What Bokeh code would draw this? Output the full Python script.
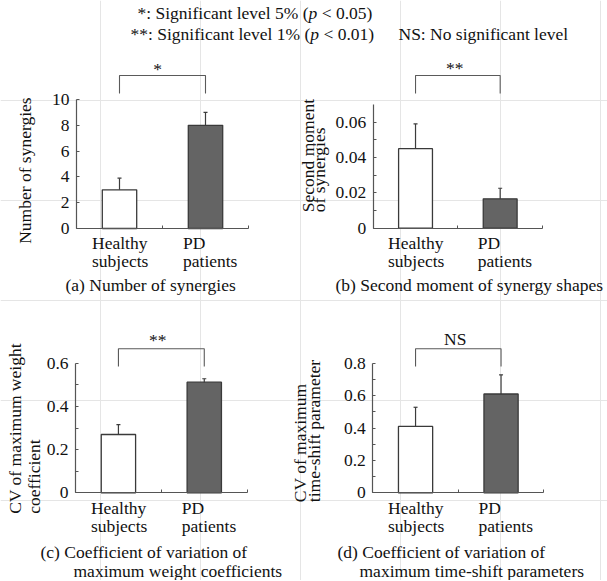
import math
from bokeh.plotting import figure
from bokeh.models import (Range1d, FixedTicker, Label, Whisker, TeeHead, ColumnDataSource,
                          LinearAxis)
from bokeh.embed import file_html
from bokeh.resources import INLINE

# ---------------- data ----------------
groups = ["Healthy subjects", "PD patients"]
group_lines = [["Healthy", "subjects"], ["PD", "patients"]]
bar_colors = ["#ffffff", "#646464"]

n_syn_mean = [3.0, 8.0]
n_syn_err = [0.9, 1.0]
sm_mean = [0.045, 0.0166]
sm_err = [0.014, 0.006]
cvw_mean = [0.27, 0.512]
cvw_err = [0.046, 0.016]
cvt_mean = [0.41, 0.61]
cvt_err = [0.118, 0.118]

ticks_a = [0, 2, 4, 6, 8, 10]
labels_a = ["0", "2", "4", "6", "8", "10"]
minor_a = []
top_a = 10

ticks_b = [0, 0.02, 0.04, 0.06]
labels_b = ["0", "0.02", "0.04", "0.06"]
minor_b = [0.01, 0.03, 0.05]
top_b = 0.07

ticks_c = [0, 0.2, 0.4, 0.6]
labels_c = ["0", "0.2", "0.4", "0.6"]
minor_c = [0.1, 0.3, 0.5]
top_c = 0.6

ticks_d = [0, 0.2, 0.4, 0.6, 0.8]
labels_d = ["0", "0.2", "0.4", "0.6", "0.8"]
minor_d = [0.1, 0.3, 0.5, 0.7]
top_d = 0.8

sig_marks = ["*", "**", "**", "NS"]
ylabels = [["Number of synergies"],
           ["Second moment", "of synergies"],
           ["CV of maximum weight", "coefficient"],
           ["CV of maximum", "time-shift parameter"]]
titles = [["(a) Number of synergies"],
          ["(b) Second moment of synergy shapes"],
          ["(c) Coefficient of variation of", "maximum weight coefficients"],
          ["(d) Coefficient of variation of", "maximum time-shift parameters"]]

# ---------------- style ----------------
FONT = "Liberation Serif"
FS = "17.5px"
TXT = "#111111"
AXC = "#555555"
EDGE = "#3a3a3a"
FIX = 7  # alphabetic-baseline correction (px)
PW, PH = 607, 580

# one canvas whose default coordinates are page pixels (y downwards)
p = figure(width=PW, height=PH, x_range=Range1d(0, PW), y_range=Range1d(PH, 0),
           min_border=0, toolbar_location=None, output_backend="svg", title=None,
           x_axis_location=None, y_axis_location=None)
p.outline_line_color = None
p.background_fill_color = "white"
p.border_fill_color = "white"


def lab(text, x, y, xo=0, yo=0, align="left", angle=0, style="normal"):
    p.add_layout(Label(x=x, y=y, x_offset=xo, y_offset=yo, text=text, text_font=FONT,
                       text_font_size=FS, text_color=TXT, text_align=align,
                       text_baseline="alphabetic", angle=angle, text_font_style=style))


def hlab(text, x, y, style="normal", align="left"):
    lab(text, x, y, yo=FIX, style=style, align=align)


def vlab(text, xb, ystart):
    lab(text, xb, ystart, xo=-FIX, angle=math.pi / 2)


def panel(name, L, R, Z, atp, means, errs, ticks, tlabels, minor, top,
          br_top, br_leg, sig, sig_base, sig_dx, ylab, ylab_x, ylab_start, base1, title, title_pos):
    n = len(groups)
    sx = (R - L) / n                     # px per category
    ky = (Z - atp) / top                 # px per value unit
    xn, yn = "x" + name, "y" + name
    p.extra_x_ranges[xn] = Range1d(-L / sx, (PW - L) / sx)
    p.extra_y_ranges[yn] = Range1d((Z - PH) / ky, Z / ky)

    xs = [i + 0.5 for i in range(n)]
    p.vbar(x=xs, top=means, width=0.4, bottom=0, fill_color=bar_colors,
           line_color=EDGE, line_width=1.3, x_range_name=xn, y_range_name=yn)
    src = ColumnDataSource(dict(x=xs, upper=[m + e for m, e in zip(means, errs)],
                                lower=[m - e for m, e in zip(means, errs)]))
    p.add_layout(Whisker(base="x", upper="upper", lower="lower", source=src,
                         x_range_name=xn, y_range_name=yn,
                         line_color="#3c3c3c", line_width=1.2,
                         upper_head=TeeHead(size=4, line_color="#3c3c3c", line_width=1.2),
                         lower_head=TeeHead(size=4, line_color="#3c3c3c", line_width=1.2)))

    # significance bracket between the two bars
    yt = (Z - br_top) / ky
    yl = (Z - br_leg) / ky
    p.line(x=[xs[0], xs[0], xs[1], xs[1]], y=[yl, yt, yt, yl], line_color="#5a5a5a",
           line_width=1.1, x_range_name=xn, y_range_name=yn)
    xc = L + (xs[0] + xs[1]) / 2 * sx
    hlab(sig, xc + sig_dx, sig_base, align="center")

    # axes
    ya = LinearAxis(x_range_name=xn, y_range_name=yn, fixed_location=0,
                    ticker=FixedTicker(ticks=ticks, minor_ticks=minor), bounds=(0, top),
                    major_label_overrides={t: l for t, l in zip(ticks, tlabels)},
                    major_label_standoff=7)
    xa = LinearAxis(x_range_name=xn, y_range_name=yn, fixed_location=0,
                    ticker=FixedTicker(ticks=list(range(n + 1)), minor_ticks=[]), bounds=(0, n),
                    major_label_overrides={i: "" for i in range(n + 1)},
                    major_label_standoff=0)
    for ax in (ya, xa):
        ax.axis_line_color = AXC
        ax.axis_line_width = 1.2
        ax.major_tick_line_color = AXC
        ax.minor_tick_line_color = AXC
        ax.major_tick_in = 3
        ax.major_tick_out = 0
        ax.minor_tick_in = 3
        ax.minor_tick_out = 0
        ax.major_label_text_font = FONT
        ax.major_label_text_font_size = FS
        ax.major_label_text_color = TXT
    xa.major_label_text_font_size = "0px"
    p.add_layout(ya, "left")
    p.add_layout(xa, "below")

    # category labels (two left-aligned lines each)
    cat_off = [-27.5, -22.5]
    for i, lines in enumerate(group_lines):
        cx = L + xs[i] * sx + cat_off[i]
        for j, s in enumerate(lines):
            hlab(s, cx, base1 + 18 * j)

    # rotated y label
    for s, xb in zip(ylab, ylab_x):
        vlab(s, xb, ylab_start)

    # panel caption
    for s, (x, y) in zip(title, title_pos):
        hlab(s, x, y)


panel("a", 76, 248, 228, 99, n_syn_mean, n_syn_err, ticks_a, labels_a, minor_a, top_a,
      75, 93, sig_marks[0], 75.5, -5, ylabels[0], [31], 243.3, 249.3, titles[0], [(65, 291.7)])
panel("b", 372.7, 542, 227.7, 104, sm_mean, sm_err, ticks_b, labels_b, minor_b, top_b,
      75, 93, sig_marks[1], 74.3, -3, ylabels[1], [314, 325.5], 211.7, 249.3, titles[1],
      [(335, 291.7)])
panel("c", 75, 246.7, 492.3, 362.7, cvw_mean, cvw_err, ticks_c, labels_c, minor_c, top_c,
      348.3, 366, sig_marks[2], 346.3, -3.5, ylabels[2], [21, 40], 513.3, 514, titles[2],
      [(40, 558), (73, 577.3)])
panel("d", 372.3, 543.3, 492.3, 362.7, cvt_mean, cvt_err, ticks_d, labels_d, minor_d, top_d,
      348.3, 366, sig_marks[3], 345, -3, ylabels[3], [306, 320.5], 501.7, 514, titles[3],
      [(337, 558), (359, 577.3)])

# ---- significance legend at the top ----
em = 17.5
hlab("*: Significant level 5% (", 137, 19)
hlab("p", 137 + 9.777 * em, 19, style="italic")
hlab("< 0.05)", 137 + 10.527 * em, 19)
hlab("**: Significant level 1% (", 130, 40)
hlab("p", 130 + 10.277 * em, 40, style="italic")
hlab("< 0.01)", 130 + 11.027 * em, 40)
hlab("NS: No significant level", 398, 40)

open("out.html", "w").write(file_html(p, INLINE))
